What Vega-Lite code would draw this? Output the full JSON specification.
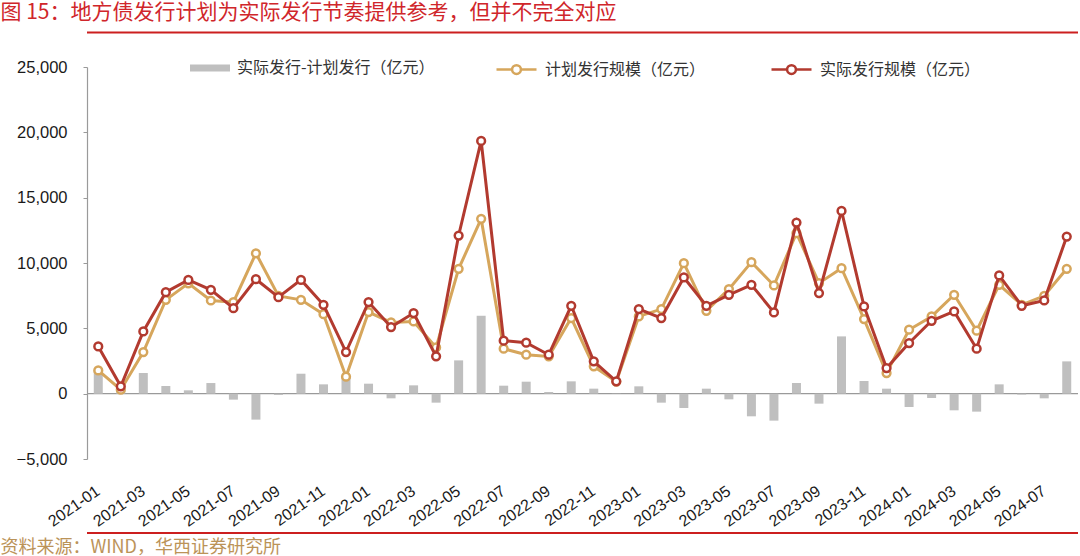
{
  "$schema": "https://vega.github.io/schema/vega-lite/v6.json",
  "width": 991,
  "height": 392,
  "autosize": {"type": "none"},
  "padding": {"left": 87, "top": 67, "right": 2, "bottom": 97},
  "background": "white",
  "config": {"view": {"stroke": null}, "axis": {"labelFont": "Liberation Sans"}},
  "data": {
    "values": [
      {"month": "2021-01", "actual": 3615, "plan": 1782, "diff": 1833},
      {"month": "2021-02", "actual": 560, "plan": 300, "diff": 260},
      {"month": "2021-03", "actual": 4760, "plan": 3180, "diff": 1580},
      {"month": "2021-04", "actual": 7765, "plan": 7180, "diff": 585},
      {"month": "2021-05", "actual": 8707, "plan": 8450, "diff": 257},
      {"month": "2021-06", "actual": 7944, "plan": 7130, "diff": 814},
      {"month": "2021-07", "actual": 6543, "plan": 7000, "diff": -457},
      {"month": "2021-08", "actual": 8758, "plan": 10744, "diff": -1986},
      {"month": "2021-09", "actual": 7383, "plan": 7485, "diff": -102},
      {"month": "2021-10", "actual": 8707, "plan": 7180, "diff": 1527},
      {"month": "2021-11", "actual": 6798, "plan": 6085, "diff": 713},
      {"month": "2021-12", "actual": 3187, "plan": 1300, "diff": 1300},
      {"month": "2022-01", "actual": 7007, "plan": 6243, "diff": 764},
      {"month": "2022-02", "actual": 5096, "plan": 5453, "diff": -357},
      {"month": "2022-03", "actual": 6166, "plan": 5529, "diff": 637},
      {"month": "2022-04", "actual": 2854, "plan": 3542, "diff": -688},
      {"month": "2022-05", "actual": 12103, "plan": 9555, "diff": 2548},
      {"month": "2022-06", "actual": 19339, "plan": 13377, "diff": 5962},
      {"month": "2022-07", "actual": 4051, "plan": 3440, "diff": 611},
      {"month": "2022-08", "actual": 3898, "plan": 2981, "diff": 917},
      {"month": "2022-09", "actual": 2981, "plan": 2854, "diff": 127},
      {"month": "2022-10", "actual": 6727, "plan": 5784, "diff": 943},
      {"month": "2022-11", "actual": 2472, "plan": 2089, "diff": 383},
      {"month": "2022-12", "actual": 943, "plan": 923, "diff": 20},
      {"month": "2023-01", "actual": 6472, "plan": 5911, "diff": 561},
      {"month": "2023-02", "actual": 5784, "plan": 6472, "diff": -688},
      {"month": "2023-03", "actual": 8893, "plan": 9988, "diff": -1095},
      {"month": "2023-04", "actual": 6727, "plan": 6345, "diff": 382},
      {"month": "2023-05", "actual": 7568, "plan": 8001, "diff": -433},
      {"month": "2023-06", "actual": 8332, "plan": 10065, "diff": -1733},
      {"month": "2023-07", "actual": 6217, "plan": 8281, "diff": -2064},
      {"month": "2023-08", "actual": 13097, "plan": 12281, "diff": 816},
      {"month": "2023-09", "actual": 7695, "plan": 8459, "diff": -764},
      {"month": "2023-10", "actual": 13989, "plan": 9606, "diff": 4383},
      {"month": "2023-11", "actual": 6676, "plan": 5707, "diff": 969},
      {"month": "2023-12", "actual": 1962, "plan": 1580, "diff": 382},
      {"month": "2024-01", "actual": 3873, "plan": 4892, "diff": -1019},
      {"month": "2024-02", "actual": 5580, "plan": 5911, "diff": -331},
      {"month": "2024-03", "actual": 6294, "plan": 7568, "diff": -1274},
      {"month": "2024-04", "actual": 3440, "plan": 4816, "diff": -1376},
      {"month": "2024-05", "actual": 9045, "plan": 8332, "diff": 713},
      {"month": "2024-06", "actual": 6727, "plan": 6803, "diff": -76},
      {"month": "2024-07", "actual": 7134, "plan": 7491, "diff": -357},
      {"month": "2024-08", "actual": 12026, "plan": 9555, "diff": 2471}
    ]
  },
  "layer": [
    {
      "data": {"values": [{}]},
      "mark": {"type": "rule", "color": "#9a9a9a", "strokeWidth": 1.2},
      "encoding": {"y": {"datum": 0, "type": "quantitative"}}
    },
    {
      "mark": {"type": "bar", "size": 9},
      "encoding": {
        "x": {
          "field": "month",
          "type": "ordinal",
          "sort": null,
          "scale": {"paddingInner": 0, "paddingOuter": 0},
          "axis": {
            "title": "资料来源：WIND，华西证券研究所",
            "titleFont": "Noto Sans CJK SC",
            "titleFontSize": 18,
            "titleFontWeight": "normal",
            "titleColor": "#bb9358",
            "titleAlign": "left",
            "titleX": -87,
            "titleY": 79,
            "domain": false,
            "ticks": false,
            "labelAngle": -35,
            "labelAlign": "right",
            "labelBaseline": "middle",
            "labelPadding": 30,
            "labelFontSize": 16,
            "labelColor": "#1a1a1a",
            "labelOverlap": false,
            "labelExpr": "parseInt(slice(datum.value, 5)) % 2 == 1 ? datum.value : ''"
          }
        },
        "y": {
          "field": "diff",
          "type": "quantitative",
          "stack": null,
          "scale": {"domain": [-5000, 25000], "nice": false, "zero": false},
          "axis": {
            "title": "图 15：地方债发行计划为实际发行节奏提供参考，但并不完全对应",
            "titleFont": "Noto Sans CJK SC",
            "titleFontSize": 21,
            "titleFontWeight": "normal",
            "titleColor": "#d0262b",
            "titleAngle": 0,
            "titleAlign": "left",
            "titleBaseline": "middle",
            "titleX": -87,
            "titleY": -55,
            "values": [-5000, 0, 5000, 10000, 15000, 20000, 25000],
            "format": ",.0f",
            "grid": false,
            "domainColor": "#9a9a9a",
            "domainWidth": 1.2,
            "tickColor": "#9a9a9a",
            "tickSize": 4,
            "labelPadding": 16,
            "labelFontSize": 16.5,
            "labelColor": "#1a1a1a"
          }
        },
        "fill": {
          "datum": "实际发行-计划发行（亿元）",
          "scale": {"domain": ["实际发行-计划发行（亿元）"], "range": ["#bfbfbf"]},
          "legend": {
            "title": null,
            "orient": "none",
            "legendX": 103,
            "legendY": -19,
            "padding": 0,
            "symbolSize": 1600,
            "symbolType": "M-1,-0.18H1V0.18H-1Z",
            "symbolStrokeWidth": 0,
            "labelFont": "Noto Sans CJK SC",
            "labelFontSize": 16,
            "labelLimit": 400,
            "labelColor": "#333333",
            "labelOffset": 7
          }
        }
      }
    },
    {
      "mark": {"type": "line", "strokeWidth": 3},
      "encoding": {
        "x": {"field": "month", "type": "ordinal", "sort": null},
        "y": {"field": "plan", "type": "quantitative"},
        "stroke": {
          "datum": "计划发行规模（亿元）",
          "scale": {"domain": ["计划发行规模（亿元）", "实际发行规模（亿元）"], "range": ["#d6a65c", "#b23a2f"]},
          "legend": {
            "title": null,
            "orient": "none",
            "legendX": 408,
            "legendY": -19,
            "direction": "horizontal",
            "columns": 2,
            "padding": 0,
            "columnPadding": 60,
            "symbolSize": 1600,
            "symbolType": "M-1,0H-0.22M0.22,0H1M0.22,0A0.22,0.22 0 1,1 -0.22,0A0.22,0.22 0 1,1 0.22,0",
            "symbolFillColor": "#ffffff",
            "symbolStrokeWidth": 2.5,
            "labelFont": "Noto Sans CJK SC",
            "labelFontSize": 16,
            "labelLimit": 400,
            "labelColor": "#333333",
            "labelOffset": 7
          }
        }
      }
    },
    {
      "mark": {"type": "point", "shape": "circle", "filled": false, "fill": "#ffffff", "fillOpacity": 1, "opacity": 1, "size": 60, "strokeWidth": 2.5},
      "encoding": {
        "x": {"field": "month", "type": "ordinal", "sort": null},
        "y": {"field": "plan", "type": "quantitative"},
        "stroke": {"datum": "计划发行规模（亿元）"}
      }
    },
    {
      "mark": {"type": "line", "strokeWidth": 3},
      "encoding": {
        "x": {"field": "month", "type": "ordinal", "sort": null},
        "y": {"field": "actual", "type": "quantitative"},
        "stroke": {"datum": "实际发行规模（亿元）"}
      }
    },
    {
      "mark": {"type": "point", "shape": "circle", "filled": false, "fill": "#ffffff", "fillOpacity": 1, "opacity": 1, "size": 60, "strokeWidth": 2.5},
      "encoding": {
        "x": {"field": "month", "type": "ordinal", "sort": null},
        "y": {"field": "actual", "type": "quantitative"},
        "stroke": {"datum": "实际发行规模（亿元）"}
      }
    },
    {
      "data": {"values": [{}]},
      "mark": {"type": "rule", "color": "#cc1f1f", "strokeWidth": 2},
      "encoding": {"y": {"datum": 27640, "type": "quantitative"}}
    },
    {
      "data": {"values": [{}]},
      "mark": {"type": "rule", "color": "#cc1f1f", "strokeWidth": 2},
      "encoding": {"y": {"datum": -10663, "type": "quantitative"}}
    }
  ]
}
